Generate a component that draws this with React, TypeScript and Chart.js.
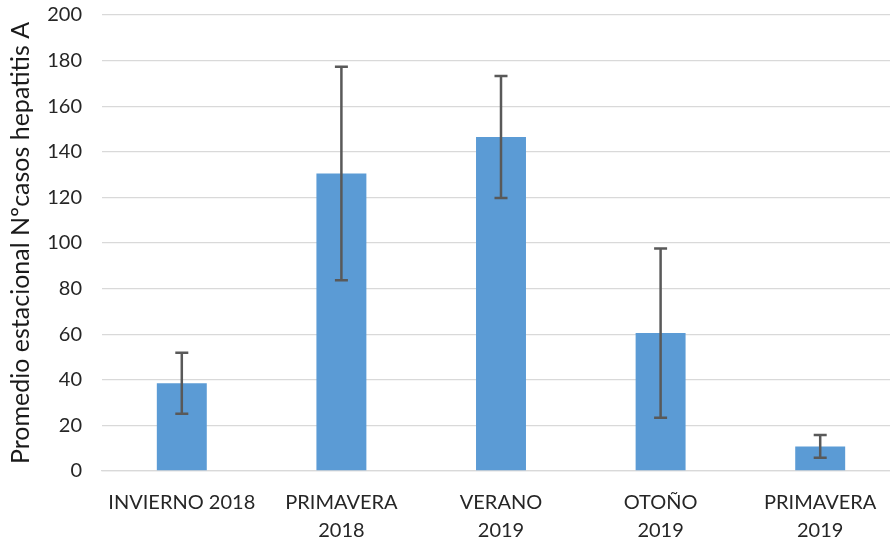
import React, { useEffect, useRef } from "react";
import { Chart, registerables } from "chart.js";

Chart.register(...registerables);

const categories: string[][] = [
  ["INVIERNO 2018"],
  ["PRIMAVERA", "2018"],
  ["VERANO", "2019"],
  ["OTOÑO", "2019"],
  ["PRIMAVERA", "2019"],
];
const means = [38.5, 130.5, 146.5, 60.5, 10.8];
const errors = [13.4, 46.8, 26.8, 37.1, 5.0];
const yMin = 0;
const yMax = 200;
const yStep = 20;
const yTitle = "Promedio estacional Nºcasos hepatitis A";

const FONT = "Lato, 'Open Sans', sans-serif";

const errorBarPlugin = {
  id: "errorBars",
  afterDatasetsDraw(chart: any) {
    const meta = chart.getDatasetMeta(0);
    const ys = chart.scales.y;
    const ctx = chart.ctx;
    ctx.save();
    ctx.strokeStyle = "#595959";
    ctx.lineWidth = 2.5;
    meta.data.forEach((bar: any, i: number) => {
      const x = bar.x;
      const top = ys.getPixelForValue(means[i] + errors[i]);
      const bot = ys.getPixelForValue(means[i] - errors[i]);
      const cap = 6.5;
      ctx.beginPath();
      ctx.moveTo(x, top);
      ctx.lineTo(x, bot);
      ctx.moveTo(x - cap, top);
      ctx.lineTo(x + cap, top);
      ctx.moveTo(x - cap, bot);
      ctx.lineTo(x + cap, bot);
      ctx.stroke();
    });
    ctx.restore();
  },
};

export default function App() {
  const ref = useRef<HTMLCanvasElement | null>(null);
  useEffect(() => {
    document.body.style.margin = "0";
    const canvas = ref.current;
    if (!canvas) return;
    const chart = new Chart(canvas, {
      type: "bar",
      data: {
        labels: categories,
        datasets: [
          {
            data: means,
            backgroundColor: "#5B9BD5",
            borderWidth: 0,
            categoryPercentage: 1,
            barPercentage: 0.313,
          },
        ],
      },
      plugins: [errorBarPlugin],
      options: {
        animation: false,
        responsive: false,
        devicePixelRatio: 1,
        layout: { padding: { top: 15, right: 0, bottom: 0, left: 0 } },
        plugins: {
          legend: { display: false },
          tooltip: { enabled: false },
        },
        scales: {
          x: {
            grid: { display: false, drawTicks: false },
            border: { display: true, color: "#D9D9D9", width: 1.3 },
            ticks: {
              color: "#262626",
              font: { family: FONT, size: 20, lineHeight: 1.42 },
              padding: 17,
              maxRotation: 0,
              autoSkip: false,
            },
            afterFit(scale: any) {
              scale.height = 75;
            },
          },
          y: {
            min: yMin,
            max: yMax,
            ticks: {
              stepSize: yStep,
              color: "#262626",
              font: { family: FONT, size: 20 },
              padding: 20,
            },
            grid: { color: "#D9D9D9", lineWidth: 1.3, drawTicks: false },
            border: { display: false },
            title: {
              display: true,
              text: yTitle,
              color: "#1a1a1a",
              font: { family: FONT, size: 25 },
              padding: { top: 6, bottom: 0 },
            },
            afterFit(scale: any) {
              scale.width = 102;
              scale.paddingTop = 0;
              scale.paddingBottom = 0;
            },
          },
        },
      },
    });
    return () => chart.destroy();
  }, []);
  return (
    <div style={{ width: 890, height: 546, overflow: "hidden", position: "relative" }}>
      <canvas ref={ref} width={900} height={546} style={{ display: "block" }} />
    </div>
  );
}
